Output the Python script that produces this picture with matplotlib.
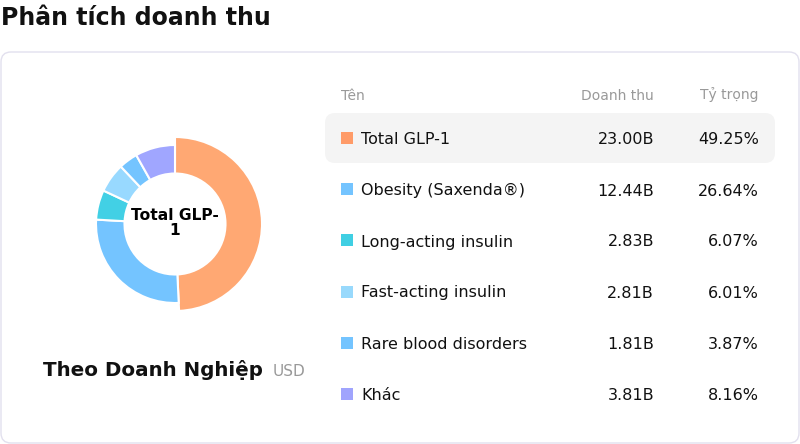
import matplotlib.pyplot as plt
from matplotlib.patches import FancyBboxPatch, Rectangle

# %% data
names = ["Total GLP-1", "Obesity (Saxenda®)", "Long-acting insulin",
         "Fast-acting insulin", "Rare blood disorders", "Khác"]
revenue = [23.00, 12.44, 2.83, 2.81, 1.81, 3.81]  # billions USD
revenue_labels = ["23.00B", "12.44B", "2.83B", "2.81B", "1.81B", "3.81B"]
share_labels = ["49.25%", "26.64%", "6.07%", "6.01%", "3.87%", "8.16%"]
headers = ["Tên", "Doanh thu", "Tỷ trọng"]

slice_colors = ["#FFA873", "#74C4FF", "#42D0E5", "#98D9FF", "#74C4FF", "#A0A6FF"]
legend_colors = ["#FF9B68", "#74C4FF", "#40CFE3", "#98D9FC", "#74C4FF", "#A0A4FD"]

W, H = 800, 444


def Y(y):
    # pixel row (from top) -> axes y
    return H - y


fig = plt.figure(figsize=(W / 100, H / 100), dpi=100)
ax = fig.add_axes([0, 0, 1, 1])

# card
card = FancyBboxPatch((1, Y(443)), 798, 391, boxstyle="round,pad=0,rounding_size=10",
                      facecolor="white", edgecolor="#E2E0EE", linewidth=1)
ax.add_patch(card)

# donut
cx, cy = 175, Y(224)
r_out, r_in, r_active = 79, 50.5, 87
wedges, _ = ax.pie(revenue, colors=slice_colors, startangle=90, counterclock=False,
                   radius=r_out, center=(cx, cy),
                   wedgeprops=dict(width=r_out - r_in, edgecolor="white", linewidth=1.5))
wedges[0].set_radius(r_active)
wedges[0].set_width(r_active - r_in)

ax.text(cx, Y(223), "Total GLP-\n1", ha="center", va="center", fontsize=11.2,
        fontweight="bold", linespacing=1.0, multialignment="center")

ax.text(43, Y(376), "Theo Doanh Nghiệp", ha="left", va="baseline",
        fontsize=14.3, fontweight="bold", color="#111111")
ax.text(273, Y(376), "USD", ha="left", va="baseline", fontsize=11, color="#999999")

# title
ax.text(1, Y(25), "Phân tích doanh thu", ha="left", va="baseline",
        fontsize=17, fontweight="bold", color="#111111")

# table
col_name, col_rev, col_share = 341, 654, 759
hdr_color = "#999999"
ax.text(col_name, Y(99.5), headers[0], ha="left", va="baseline", fontsize=10, color=hdr_color)
ax.text(col_rev, Y(99.5), headers[1], ha="right", va="baseline", fontsize=10, color=hdr_color)
ax.text(col_share, Y(99.5), headers[2], ha="right", va="baseline", fontsize=10, color=hdr_color)

hl = FancyBboxPatch((325, Y(163)), 450, 50, boxstyle="round,pad=0,rounding_size=10",
                    facecolor="#F4F4F4", edgecolor="none")
ax.add_patch(hl)

row0, step = 138.5, 51
for i, name in enumerate(names):
    yc = row0 + i * step
    ax.add_patch(Rectangle((341, Y(yc + 6)), 12, 12, facecolor=legend_colors[i],
                           edgecolor="none"))
    ax.text(361, Y(yc + 6), name, ha="left", va="baseline", fontsize=11.5, color="#111111")
    ax.text(col_rev, Y(yc + 6), revenue_labels[i], ha="right", va="baseline",
            fontsize=11.5, color="#111111")
    ax.text(col_share, Y(yc + 6), share_labels[i], ha="right", va="baseline",
            fontsize=11.5, color="#111111")

ax.set_xlim(0, W)
ax.set_ylim(0, H)
ax.set_aspect("auto")
ax.axis("off")

fig.savefig("out.png", dpi=100)
